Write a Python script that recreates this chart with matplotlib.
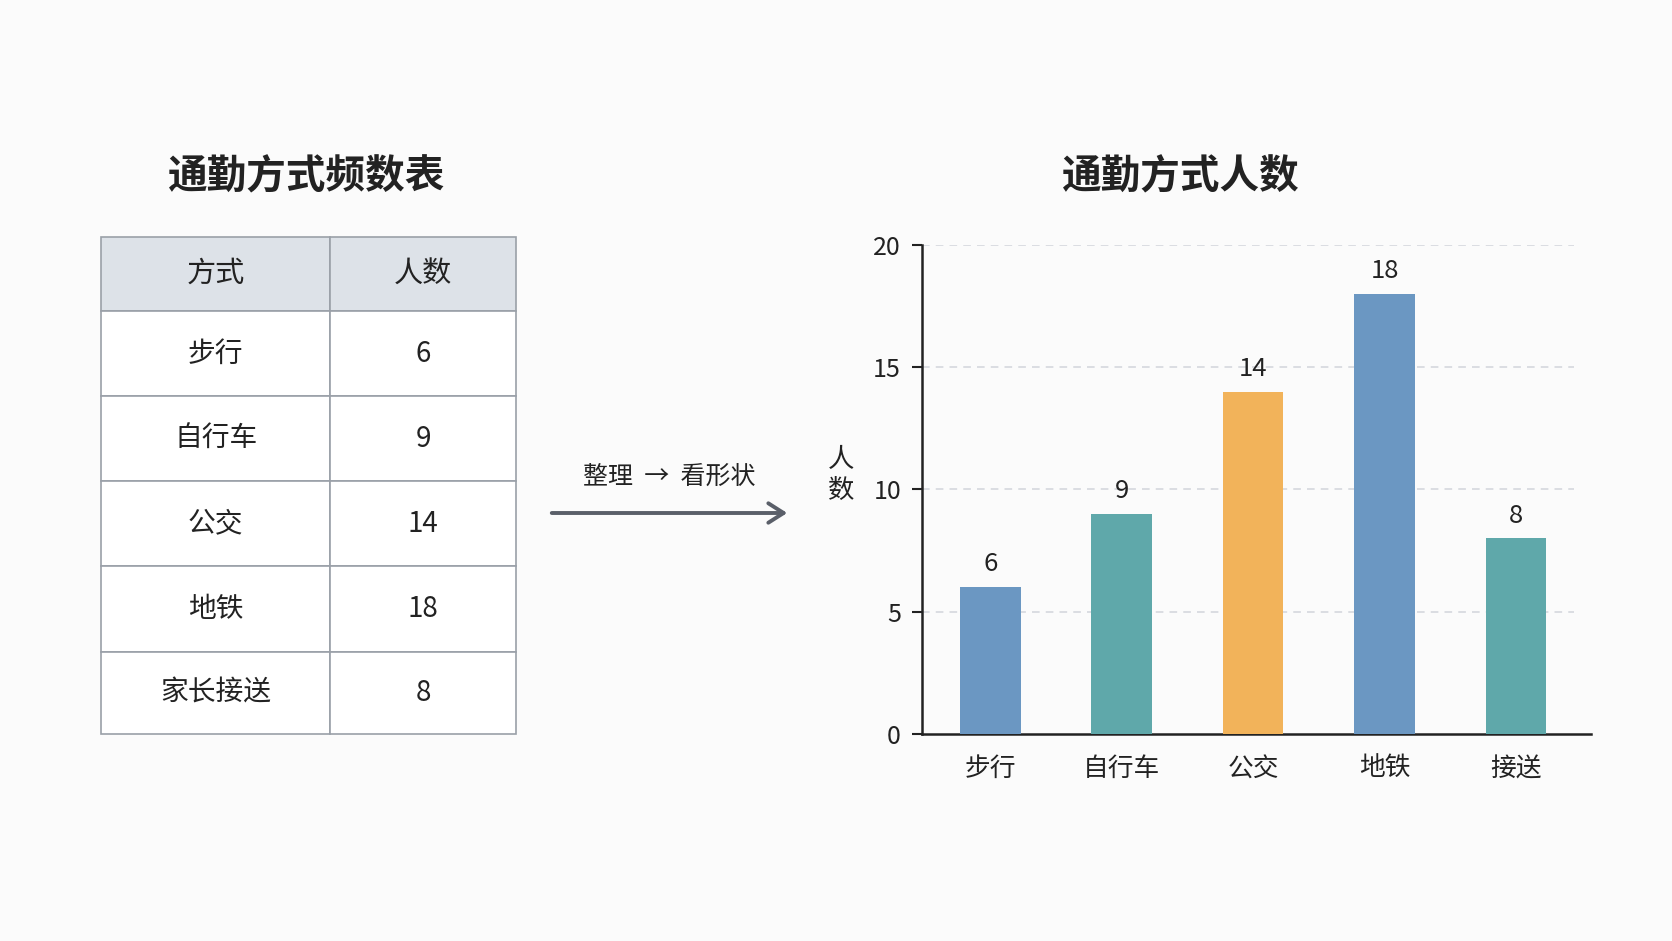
import matplotlib
matplotlib.use('Agg')
import matplotlib.pyplot as plt
from matplotlib.patches import FancyArrowPatch

plt.rcParams['font.family'] = ['Noto Sans CJK SC', 'DejaVu Sans']

# 数据
table_modes = ['步行', '自行车', '公交', '地铁', '家长接送']
bar_modes = ['步行', '自行车', '公交', '地铁', '接送']
counts = [6, 9, 14, 18, 8]
table_header = ['方式', '人数']
bar_colors = ['#6B97C2', '#5FA8AA', '#F2B35A', '#6B97C2', '#5FA8AA']
y_ticks = [0, 5, 10, 15, 20]

text_color = '#222222'
bg = '#FBFBFB'

fig = plt.figure(figsize=(16.72, 9.41), dpi=100, facecolor=bg)

# 左侧频数表
tax = fig.add_axes([0.0604, 0.22, 0.2482, 0.528])
tax.axis('off')
cell_text = [[m, str(c)] for m, c in zip(table_modes, counts)]
tbl = tax.table(cellText=cell_text, colLabels=table_header,
                bbox=[0, 0, 1, 1], cellLoc='center',
                colWidths=[0.553, 0.447])
tbl.auto_set_font_size(False)
row_h = [74, 85, 85, 85, 86, 82]
for (r, c), cell in tbl.get_celld().items():
    cell.set_edgecolor('#9AA0A8')
    cell.set_linewidth(1.2)
    cell.set_height(row_h[r])
    cell.get_text().set_fontsize(20)
    cell.get_text().set_color(text_color)
    if r == 0:
        cell.set_facecolor('#DDE2E8')
        cell.get_text().set_fontsize(21)
    else:
        cell.set_facecolor('white')

fig.text(0.1836, 0.812, '通勤方式频数表', ha='center', va='center',
         fontsize=28.5, fontweight='bold', color=text_color)

# 中间箭头
arrow = FancyArrowPatch((549 / 1672, 1 - 513 / 941), (790 / 1672, 1 - 513 / 941),
                        transform=fig.transFigure, arrowstyle='->,head_length=11,head_width=7',
                        color='#5A5F69', lw=2.8, mutation_scale=1)
fig.patches.append(arrow)
fig.text(669 / 1672, 1 - 477 / 941, '整理  →  看形状', ha='center', va='center',
         fontsize=18, color=text_color)

# 右侧柱状图
ax = fig.add_axes([0.5514, 0.22, 0.4001, 0.5197])
ax.set_facecolor(bg)
x = list(range(len(bar_modes)))
bars = ax.bar(x, counts, width=0.46, color=bar_colors, zorder=3)
for xi, v in zip(x, counts):
    ax.text(xi, v + 0.4, str(v), ha='center', va='bottom', fontsize=18.5, color=text_color)

ax.set_xlim(-0.52, 4.57)
ax.set_ylim(0, 20)
ax.set_yticks(y_ticks)
ax.set_xticks(x)
ax.set_xticklabels(bar_modes)
ax.tick_params(axis='x', length=0, pad=16, labelsize=18.5, labelcolor=text_color)
ax.tick_params(axis='y', length=7, width=1.5, pad=8, labelsize=18, labelcolor=text_color, color='#222222')
for yv in y_ticks[1:]:
    ax.axhline(yv, xmin=0, xmax=0.975, color='#D2D5DB', lw=1.1, ls=(0, (5, 4)), zorder=1)
ax.spines['top'].set_visible(False)
ax.spines['right'].set_visible(False)
ax.spines['left'].set_color('#222222')
ax.spines['left'].set_linewidth(1.8)
ax.spines['bottom'].set_color('#222222')
ax.spines['bottom'].set_linewidth(1.8)

fig.text(841 / 1672, 1 - 475 / 941, '人\n数', ha='center', va='center',
         fontsize=19, color=text_color, linespacing=1.15)
fig.text(1181 / 1672, 0.812, '通勤方式人数', ha='center', va='center',
         fontsize=28.5, fontweight='bold', color=text_color)

fig.savefig('out.png', dpi=100, facecolor=bg)
